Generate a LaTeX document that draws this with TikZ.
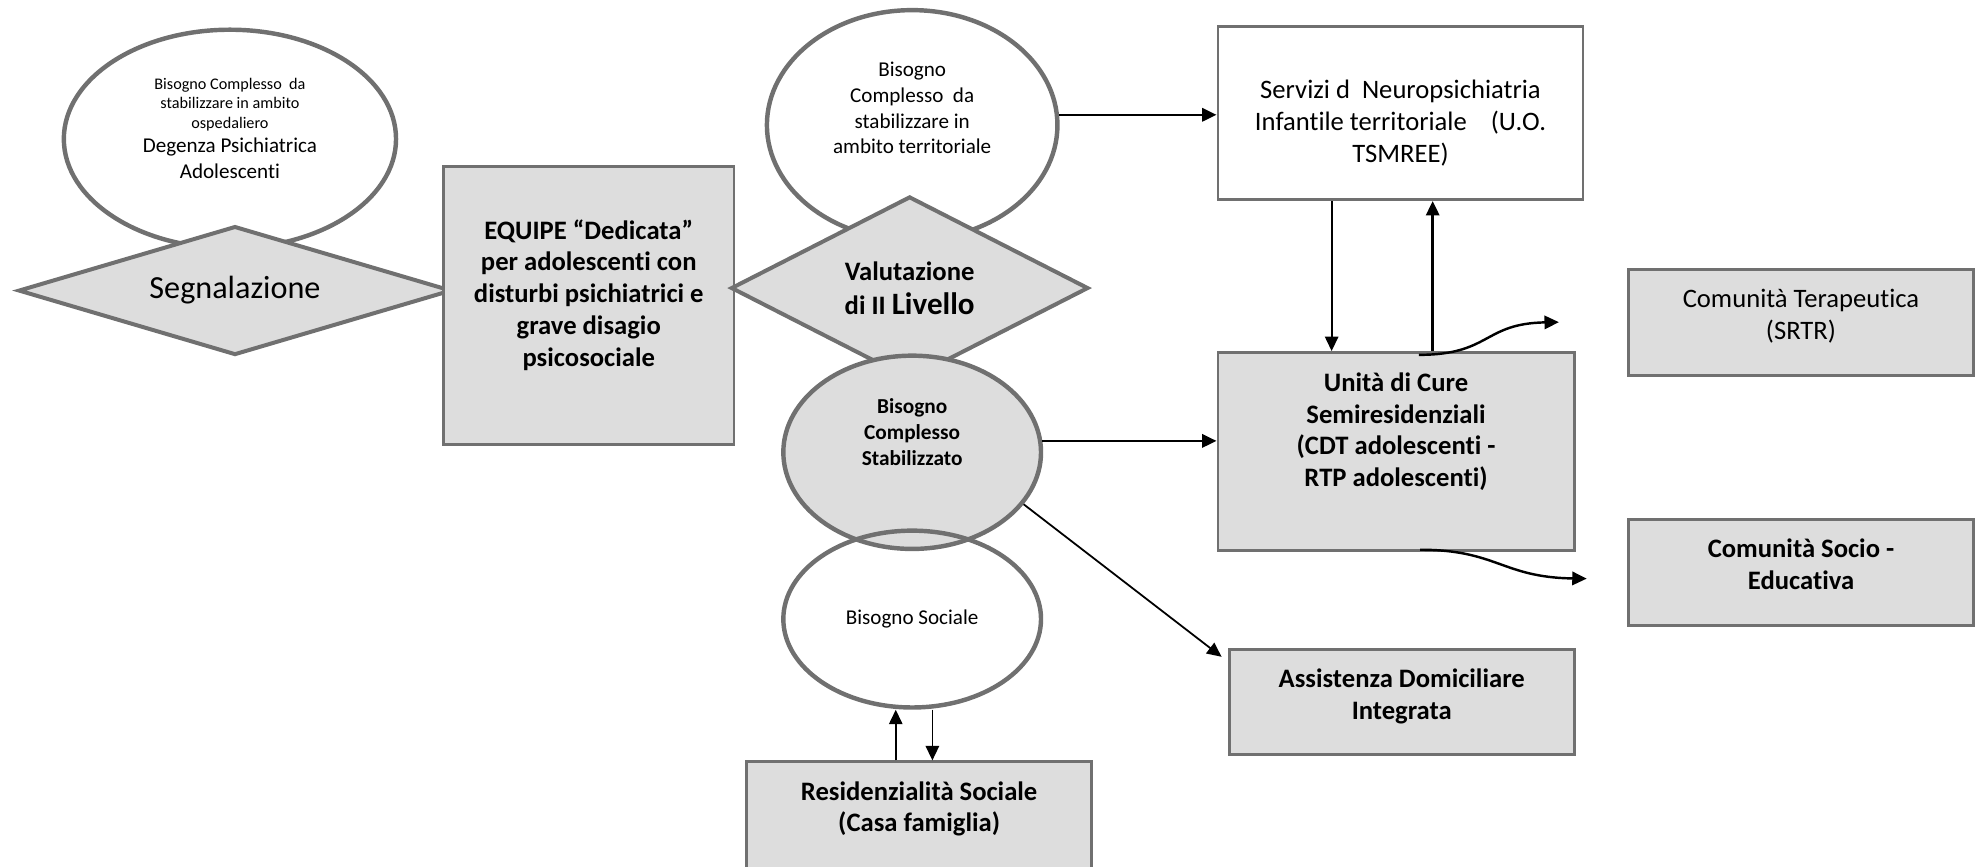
\documentclass[tikz,border=0pt]{standalone}
\usepackage{fontspec}
\setsansfont{Carlito}[Ligatures={NoCommon,NoContextual}]
\usepackage{tikz}
\usetikzlibrary{arrows.meta,calc,shapes.geometric}
\definecolor{ecline}{RGB}{112,112,112}
\definecolor{ecfill}{RGB}{221,221,221}

\begin{document}
\begin{tikzpicture}[x=0.02cm, y=-0.02cm,
  every node/.style={font=\sffamily\fontsize{12}{14.3}\selectfont, align=center, inner sep=0pt},
  bubble/.style={ellipse, draw=ecline, line width=2pt, fill=white, font=\sffamily\fontsize{9.5}{11.5}\selectfont},
  held/.style={bubble, fill=ecfill, font=\sffamily\bfseries\fontsize{9.6}{11.6}\selectfont},
  gate/.style={diamond, draw=ecline, line width=1.8pt, fill=ecfill},
  unit/.style={rectangle, draw=ecline, line width=1.3pt, fill=ecfill, font=\sffamily\bfseries\fontsize{12}{14.3}\selectfont},
  service/.style={unit, font=\sffamily\fontsize{12}{14.3}\selectfont},
  flow/.style={-{Triangle[length=6.5pt,width=6pt]}, line width=1.1pt},
  flowthin/.style={flow, line width=0.8pt}
]
  \useasboundingbox (0,0) rectangle (1568,686);
  \clip (0,0) rectangle (1568,686);

  % left: hospital need, signalling, equipe
  \node[bubble, minimum width=5.26cm, minimum height=3.46cm, text depth=0.34cm] (osp) at (182,110)
    {{\fontsize{7.3}{8.8}\selectfont Bisogno Complesso\ \ da}\\[-2.7pt]
     {\fontsize{7.3}{8.8}\selectfont stabilizzare in ambito}\\[-2.7pt]
     {\fontsize{7.3}{8.8}\selectfont ospedaliero}\\[-0.5pt]
     Degenza Psichiatrica\\Adolescenti};
  \node[gate, aspect=3.4, minimum width=6.86cm, minimum height=2.04cm,
    font=\sffamily\fontsize{14.5}{17}\selectfont] (segn) at (186,230) {Segnalazione};
  \node[unit, minimum width=4.6cm, minimum height=4.4cm, text depth=0.41cm] (equipe) at (466,242)
    {EQUIPE “Dedicata”\\per adolescenti con\\disturbi psichiatrici e\\grave disagio\\psicosociale};

  % middle column
  \node[bubble, minimum width=4.6cm, minimum height=3.64cm, text depth=0.54cm] (terr) at (722,99)
    {Bisogno\\Complesso\ \ da\\stabilizzare in\\ambito territoriale};
  \node[gate, aspect=1.95, minimum width=5.66cm, minimum height=2.9cm,
    font=\sffamily\bfseries\fontsize{12}{15.4}\selectfont] (valut) at (720,228)
    {Valutazione\\di II {\fontsize{14}{15.4}\selectfont Livello}};
  \node[held, minimum width=4.08cm, minimum height=3.06cm, text depth=0.64cm] (stab) at (722,358)
    {Bisogno\\Complesso\\Stabilizzato};
  \node[bubble, fill=none, minimum width=4.08cm, minimum height=2.8cm] (soc) at (722,490) {Bisogno Sociale};
  \node[unit, minimum width=5.46cm, minimum height=1.94cm, text depth=0.52cm] (res) at (727.5,651.5)
    {Residenzialità Sociale\\(Casa famiglia)};

  % right side
  \node[service, fill=white, minimum width=5.78cm, minimum height=2.74cm, text height=1.62cm] (serv) at (1108.5,89.5)
    {Servizi d\ \ Neuropsichiatria\\Infantile territoriale\ \ \ \ (U.O.\\TSMREE)};
  \node[unit, minimum width=5.64cm, minimum height=3.14cm, text depth=0.7cm] (unita) at (1105,357.5)
    {Unità di Cure\\Semiresidenziali\\(CDT adolescenti -\\RTP adolescenti)};
  \node[service, minimum width=5.46cm, minimum height=1.68cm, text depth=0.25cm] (ter) at (1425.5,255)
    {Comunità Terapeutica\\(SRTR)};
  \node[unit, minimum width=5.46cm, minimum height=1.68cm, text depth=0.25cm] (soced) at (1425.5,453)
    {Comunità Socio -\\Educativa};
  \node[unit, minimum width=5.46cm, minimum height=1.66cm, text depth=0.25cm] (adi) at (1109.5,555.5)
    {Assistenza Domiciliare\\Integrata};

  \coordinate (terin) at ([xshift=-1.08cm]ter.west);
  \coordinate (socin) at ([xshift=-0.64cm,yshift=-0.1cm]soced.west);

  % arrows
  \draw[flow] (terr.4) -- (terr.4 -| serv.west);
  \draw[flowthin] ([xshift=-1.09cm]serv.south) -- ([xshift=-1.09cm]serv.south |- unita.north);
  \draw[flow] ([xshift=0.51cm]serv.south |- unita.north) -- ([xshift=0.51cm]serv.south);
  \draw[flow] ([xshift=0.36cm,yshift=-0.06cm]unita.north) .. controls +(57,0) and +(-60,1) .. (terin);
  \draw[flow] ([xshift=0.38cm,yshift=0.04cm]unita.south) .. controls +(61,0) and +(-67,-1) .. (socin);
  \draw[flow] (stab.5) -- (stab.5 -| unita.west);
  \draw[flowthin] (stab.-25) -- ([xshift=-0.1cm,yshift=-0.14cm]adi.north west);
  \draw[flowthin] ([xshift=-0.37cm]res.north) -- ([xshift=-0.37cm]res.north |- soc.south);
  \draw[flowthin] ([xshift=0.21cm]res.north |- soc.south) -- ([xshift=0.21cm]res.north);
\end{tikzpicture}
\end{document}
